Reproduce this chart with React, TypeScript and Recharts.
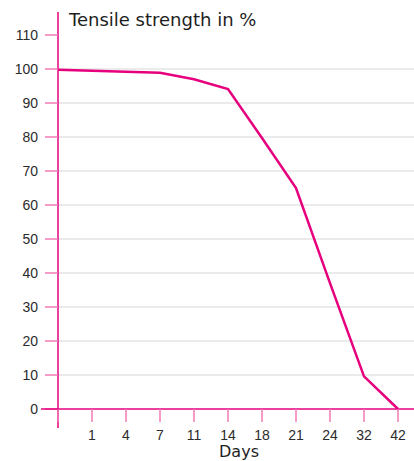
import React from "react";
import { LineChart, Line, XAxis, YAxis, CartesianGrid, ReferenceLine } from "recharts";

const days = ["0", "1", "4", "7", "11", "14", "18", "21", "24", "32", "42"];
const strength = [99.8, 99.5, 99.2, 98.9, 97.0, 94.1, 79.7, 65.0, 37.0, 9.6, 0];
const yTicks = [0, 10, 20, 30, 40, 50, 60, 70, 80, 90, 100, 110];
const gridValues = [10, 20, 30, 40, 50, 60, 70, 80, 90, 100];

const data = days.map((d, i) => ({ day: d, value: strength[i] }));

const MAGENTA = "#e6007e";
const LIGHT_PINK = "#f27ab6";
const TICK_FONT = "'Liberation Sans', Arial, sans-serif";

const YTick = (props: any) => {
  const { x, y, payload } = props;
  return (
    <g>
      <text
        x={x}
        y={y}
        dy="0.355em"
        textAnchor="end"
        fontFamily={TICK_FONT}
        fontSize={14}
        fill="#2b2b2b"
      >
        {payload.value}
      </text>
      {payload.value === 0 && (
        <line x1={x + 3} x2={x + 20} y1={y} y2={y} stroke={MAGENTA} strokeWidth={1.5} />
      )}
    </g>
  );
};

const XTick = (props: any) => {
  const { x, y, payload } = props;
  if (payload.value === "0") return <g />;
  return (
    <text
      x={x}
      y={y}
      dy="0.71em"
      textAnchor="middle"
      fontFamily={TICK_FONT}
      fontSize={14}
      fill="#2b2b2b"
    >
      {payload.value}
    </text>
  );
};

export default function App() {
  return (
    <div style={{ position: "fixed", left: 0, top: 0, width: 414, height: 461, background: "#fff", overflow: "hidden" }}>
      <LineChart
        width={414}
        height={461}
        data={data}
        margin={{ top: 35, right: 0, left: 0, bottom: 0 }}
      >
        <CartesianGrid
          vertical={false}
          horizontalValues={gridValues}
          stroke="#e4e4e4"
          strokeWidth={1.5}
        />
        <XAxis
          dataKey="day"
          height={52}
          padding={{ left: 0, right: 16 }}
          axisLine={{ stroke: MAGENTA, strokeWidth: 1.5 }}
          tickLine={{ stroke: LIGHT_PINK, strokeWidth: 1.5 }}
          tickSize={13}
          tickMargin={8}
          tick={<XTick />}
          interval={0}
        />
        <YAxis
          width={58}
          domain={[0, 110]}
          ticks={yTicks}
          axisLine={false}
          tickLine={{ stroke: LIGHT_PINK, strokeWidth: 1.5 }}
          tickSize={13}
          tickMargin={7}
          tick={<YTick />}
          interval={0}
        />
        <ReferenceLine
          segment={[
            { x: "0", y: -5.6 },
            { x: "0", y: 116.8 },
          ]}
          stroke={MAGENTA}
          strokeWidth={1.5}
          ifOverflow="visible"
        />
        <Line
          type="linear"
          dataKey="value"
          stroke={MAGENTA}
          strokeWidth={2.5}
          dot={false}
          isAnimationActive={false}
        />
      </LineChart>
      <div
        style={{
          position: "absolute",
          left: 69,
          top: 8,
          fontFamily: "'DejaVu Sans', sans-serif",
          fontSize: 18,
          color: "#1e1e1e",
          whiteSpace: "nowrap",
          lineHeight: "23px",
        }}
      >
        Tensile strength in %
      </div>
      <div
        style={{
          position: "absolute",
          left: 189,
          width: 100,
          textAlign: "center",
          top: 443,
          fontFamily: "'DejaVu Sans', sans-serif",
          fontSize: 16,
          color: "#1e1e1e",
          whiteSpace: "nowrap",
          lineHeight: "18px",
        }}
      >
        Days
      </div>
    </div>
  );
}
